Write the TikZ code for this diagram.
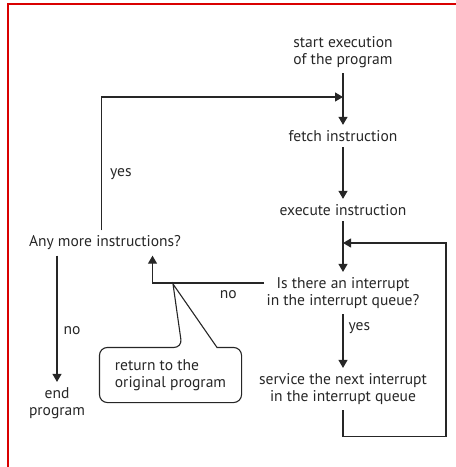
\documentclass[tikz,border=0pt]{standalone}
\usepackage{fontspec}
\setmainfont{PT Sans}
\usetikzlibrary{arrows.meta}
\begin{document}
\begin{tikzpicture}[x=1bp, y=-1bp, line width=1.1bp, black!85, >={Triangle[length=8bp,width=9bp]},
	txt/.style={align=center, inner xsep=2bp, inner ysep=5bp, font=\fontsize{15.6}{17}\selectfont},
	lbl/.style={inner sep=1bp, font=\fontsize{15.6}{17}\selectfont}]
	\useasboundingbox (0,0) rectangle (456,467);
	% khung
	\draw[red!85!black, line width=1.4bp] (8,467) -- (8,4) -- (456,4);
	\node[txt] (start) at (343,52) {start execution\\of the program};
	\node[txt] (fetch) at (343,136) {fetch instruction};
	\node[txt] (exec) at (343,210) {execute instruction};
	\node[txt] (ask) at (343,293) {Is there an interrupt\\in the interrupt queue?};
	\node[txt] (serve) at (343,389) {service the next interrupt\\in the interrupt queue};
	\node[txt] (more) at (105,243) {Any more instructions?};
	\node[txt] (stop) at (57,403) {end\\program};
	\node[lbl, align=left, minimum width=141bp, minimum height=54bp] (note) at (170.5,375) {return to the\\original program};
	\coordinate (j1) at (343,97);
	\coordinate (j2) at (343,243);
	\coordinate (tip) at (173,284);
	\draw[->] (start) -- (fetch);
	\draw[->] (fetch) -- (exec);
	\draw[->] (exec) -- (ask);
	\draw[->] (ask) -- node[lbl, pos=0.26, right=4bp] {yes} (serve);
	\draw[->] ([xshift=-3.5bp]more.north) |- node[lbl, pos=0.21, right=7bp] {yes} (j1);
	\draw[->] (stop.north |- more.south) -- node[lbl, pos=0.59, right=5bp] {no} (stop);
	\draw[->] ([yshift=10bp]ask.west) -| node[lbl, pos=0.16, below=6bp] {no} ([xshift=47.5bp]more.south);
	\draw[->] (serve.south) -- ++(0,26) -| (446,243) -- (j2);
	% hop ghi chu
	\draw[rounded corners=8bp] ([xshift=46.5bp]note.north) -- (note.north east) -- (note.south east)
		-- (note.south west) -- (note.north west) -- ([xshift=11.5bp]note.north) [sharp corners] -- (tip) -- cycle;
\end{tikzpicture}
\end{document}
